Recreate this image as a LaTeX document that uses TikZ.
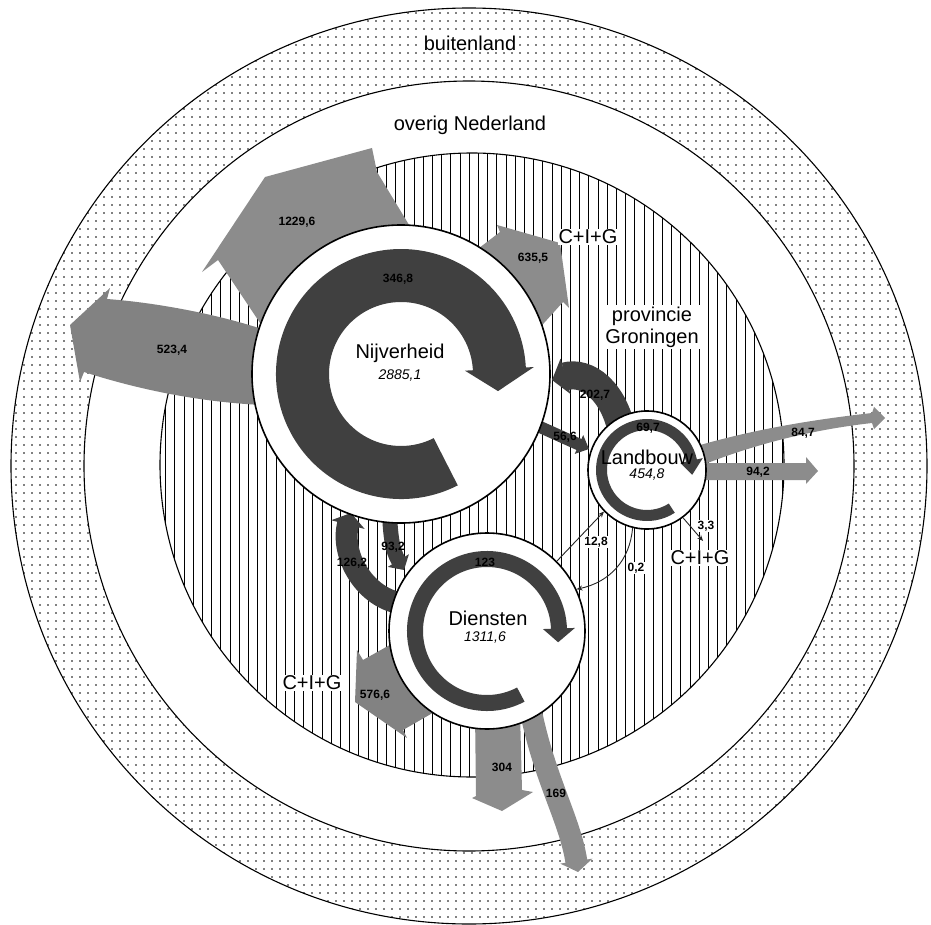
\documentclass[tikz,border=0pt]{standalone}
\usepackage{fontspec}
\setmainfont{Liberation Sans}
\usetikzlibrary{calc,arrows.meta,patterns.meta}
\definecolor{ringc}{HTML}{404040}
\definecolor{flowc}{HTML}{8C8C8C}
\definecolor{flowd}{HTML}{828282}
\begin{document}
\begin{tikzpicture}[x=1pt,y=-1pt,
  sector/.style={circle,draw=black,line width=1.6pt,fill=white,inner sep=0pt},
  zone/.style={draw=black,line width=1.1pt},
  grayflow/.style={fill=flowc},
  grayflowd/.style={fill=flowd},
  darkflow/.style={draw=ringc,line cap=butt},
  thinflow/.style={draw=black!85,line width=0.9pt,-{Stealth[length=6pt,width=5pt]}},
  big/.style={font=\fontsize{20}{23}\selectfont},
  num/.style={font=\bfseries\fontsize{12}{14}\selectfont},
  tot/.style={font=\itshape\fontsize{14}{16}\selectfont},
  clear/.style={fill=white,inner sep=2pt},
]
\fill[white] (0,0) rectangle (931,925);
\useasboundingbox (0,0) rectangle (931,925);

% zones
\coordinate (C0) at (469,466);
\coordinate (C1) at (472,465);
\fill[pattern={Dots[distance=8pt,radius=0.95pt]}] (C0) circle[radius=458];
\fill[white] (C0) circle[radius=385];
\draw[zone] (C0) circle[radius=458];
\draw[zone] (C0) circle[radius=385];
\fill[pattern={Lines[angle=90,distance=9.2pt,line width=0.9pt]}] (C1) circle[radius=312];
\draw[zone] (C1) circle[radius=312];

% gray flows
\fill[grayflow] (270,338) -- (218,260) -- (202,272) -- (265,177) -- (372,148) -- (377,172) -- (420,243) -- cycle;
\fill[grayflowd] (265,330) .. controls (220,315) and (160,303) .. (107,299) -- (110,288) -- (70,325) -- (80,382) -- (84,372)
   .. controls (140,390) and (200,402) .. (262,405) -- cycle;
\fill[grayflow] (470,255) -- (500,232) -- (497,225) -- (560,243) -- (569,308) -- (563,302) -- (535,333) -- cycle;
\fill[grayflowd] (420,628) -- (363,660) -- (357,650) -- (355,702) -- (407,738) -- (403,730) -- (450,703) -- cycle;
\fill[grayflow] (475,712) -- (476,796) -- (472,798) -- (502,811) -- (533,792) -- (522,790) -- (520,712) -- cycle;
\draw[draw=flowc,line width=22,-{Triangle[width=32pt,length=11pt]}] (531,712) .. controls (545,780) and (570,820) .. (578,872);
\fill[grayflow] (690,448) .. controls (750,430) and (810,420) .. (872,413) -- (874,407) -- (885,418) -- (874,429) -- (872,423)
   .. controls (810,430) and (750,445) .. (690,470) -- cycle;
\fill[grayflow] (690,463) -- (806,463) -- (806,457) -- (818,471) -- (806,484) -- (806,480) -- (690,480) -- cycle;

% dark flows between sectors
\draw[darkflow,line width=28,-{Triangle[width=36pt,length=14pt]}] (622,432) .. controls (614,392) and (588,370) .. (552,380);
\draw[darkflow,line width=12,-{Triangle[width=20pt,length=11pt]}] (520,418) -- (589,449);
\draw[darkflow,line width=22,-{Triangle[width=34pt,length=12pt]}] (405,604) .. controls (365,600) and (340,555) .. (351,513);
\draw[darkflow,line width=15,-{Triangle[width=24pt,length=11pt]}] (389,500) .. controls (390,535) and (392,550) .. (404,570);

% sectors
\node[sector,minimum size=298pt] (nij) at (401,374) {};
\node[sector,minimum size=118pt] (land) at (647,470) {};
\node[sector,minimum size=196pt] (dien) at (487,631) {};

% internal rings
\fill[ringc] ($(nij)+(63:125)$) arc[start angle=63,end angle=357,radius=125]
  -- ($(nij)+(357:133)$) -- ($(nij)+(370:98.5)$) -- ($(nij)+(357:64)$) -- ($(nij)+(357:72)$)
  arc[start angle=357,end angle=63,radius=72] -- cycle;
\fill[ringc] ($(land)+(57:51)$) arc[start angle=57,end angle=348,radius=51]
  -- ($(land)+(348:57)$) -- ($(land)+(366:45.5)$) -- ($(land)+(348:34)$) -- ($(land)+(348:40)$)
  arc[start angle=348,end angle=57,radius=40] -- cycle;
\fill[ringc] ($(dien)+(62:80)$) arc[start angle=62,end angle=358,radius=80]
  -- ($(dien)+(358:88)$) -- ($(dien)+(369:72)$) -- ($(dien)+(358:56)$) -- ($(dien)+(358:64)$)
  arc[start angle=358,end angle=62,radius=64] -- cycle;

% labels on white patches (drawn before thin flows)
\node[big,clear] (tbuiten) at (470,43) {buitenland};
\node[big] (toverig) at (470,125) {overig Nederland};
\node[big,align=center,clear] (tprov) at (652,327) {provincie\\[-1pt]Groningen};
\node[big,clear,inner sep=1pt] (tcig1) at (588,237) {C+I+G};
\node[big,clear,inner sep=1pt] (tcig2) at (312,683) {C+I+G};
\node[big,clear,inner sep=1pt] (tcig3) at (700,558) {C+I+G};
\node[num,clear,inner sep=1pt] at (596,542) {12,8};
\node[num,clear,inner sep=1pt] at (636,568) {0,2};
\node[num,clear,inner sep=1pt] at (706,526) {3,3};

% thin flows
\coordinate (cigend) at (703,541);
\draw[thinflow] (dien.45) -- (land.224);
\draw[thinflow] (land.256) .. controls (630,560) and (610,582) .. (dien.25);
\draw[thinflow] (land.307) -- (cigend);

% sector labels
\node[big] (tnij) at (400,353) {Nijverheid};
\node[tot] (vnij) at (400,376) {2885,1};
\node[big] (tland) at (647,457) {Landbouw};
\node[tot] (vland) at (647,475) {454,8};
\node[big] (tdien) at (488,618) {Diensten};
\node[tot] (vdien) at (485,638) {1311,6};

% flow values
\node[num] at (297,222) {1229,6};
\node[num] at (172,350) {523,4};
\node[num] at (398,279) {346,8};
\node[num] at (533,258) {635,5};
\node[num] at (595,395) {202,7};
\node[num] at (565,437) {56,6};
\node[num] at (648,428) {69,7};
\node[num] at (803,433) {84,7};
\node[num] at (758,472) {94,2};
\node[num] at (485,562) {123};
\node[num] at (393,547) {93,2};
\node[num] at (352,563) {126,2};
\node[num] at (375,695) {576,6};
\node[num] at (502,767) {304};
\node[num] at (556,793) {169};
\end{tikzpicture}
\end{document}
